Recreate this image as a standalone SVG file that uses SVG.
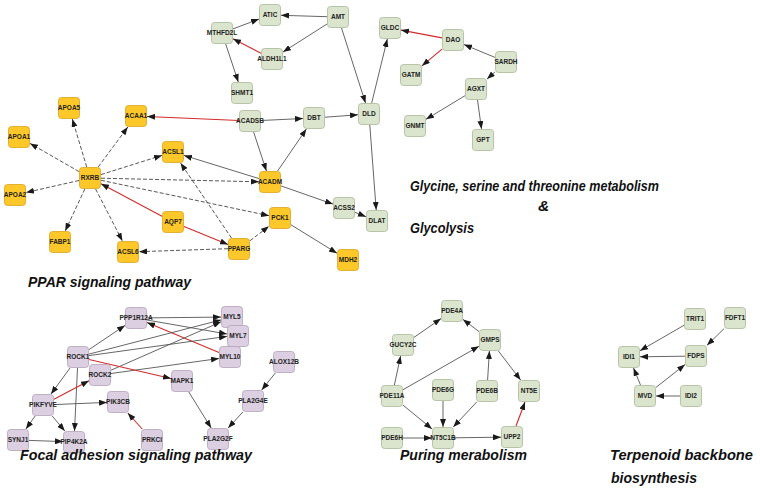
<svg xmlns="http://www.w3.org/2000/svg" width="760" height="491" viewBox="0 0 760 491">
<style>
.n rect{width:21px;height:21px;rx:3px;stroke-width:0.8}
.y rect{fill:#ffc82a;stroke:#d9a520}
.g rect{fill:#dbe5cd;stroke:#a9b898}
.p rect{fill:#dccfe1;stroke:#b3a2bb}
.n text{font-family:"Liberation Sans",Arial,sans-serif;font-size:6.5px;font-weight:bold;fill:#222;text-anchor:middle}
.e line{stroke:#555;stroke-width:0.9;marker-end:url(#ah)}
.e line.d{stroke-dasharray:4,2;stroke:#444}
.e line.r{stroke:#d22b2b;stroke-width:1.1}
.t{font-family:"Liberation Sans",Arial,sans-serif;font-size:15.5px;font-weight:bold;font-style:italic;fill:#111}
</style>
<defs>
<marker id="ah" markerUnits="userSpaceOnUse" markerWidth="8" markerHeight="6" refX="8" refY="3" orient="auto"><path d="M0,0 L8,3 L0,6 z" fill="#1a1a1a"/></marker>
</defs>
<rect width="760" height="491" fill="#fff"/>
<g id="connectors" class="e">
<line x1="327" y1="16.7" x2="281" y2="15.3"/>
<line x1="327" y1="24" x2="283" y2="52"/>
<line class="r" x1="261" y1="53.3" x2="233" y2="38.7"/>
<line x1="233" y1="28.9" x2="259" y2="19.1"/>
<line x1="225.7" y1="44" x2="238.3" y2="82"/>
<line x1="341.5" y1="28" x2="365.5" y2="103"/>
<line x1="371.7" y1="103" x2="387.3" y2="39"/>
<line class="r" x1="442" y1="37.9" x2="401" y2="30.1"/>
<line class="r" x1="442" y1="49.2" x2="422" y2="65.8"/>
<line x1="495" y1="57.4" x2="464" y2="44.6"/>
<line x1="495" y1="71.9" x2="487" y2="79.1"/>
<line x1="465" y1="95.7" x2="426" y2="119.3"/>
<line x1="477.5" y1="100" x2="481.5" y2="129"/>
<line x1="261" y1="120.5" x2="303" y2="118.5"/>
<line x1="325" y1="117.2" x2="358" y2="114.8"/>
<line x1="369.8" y1="125" x2="376.2" y2="210"/>
<line x1="253.6" y1="132" x2="266.4" y2="171"/>
<line x1="277.6" y1="171" x2="306.4" y2="129"/>
<line x1="259" y1="178.6" x2="184" y2="155.4"/>
<line x1="281" y1="185.9" x2="333" y2="204.1"/>
<line x1="355" y1="212.3" x2="366" y2="216.7"/>
<line x1="291" y1="224.8" x2="337" y2="253.2"/>
<line class="r" x1="239" y1="120.5" x2="147" y2="116.5"/>
<line class="d" x1="86.7" y1="167" x2="72.3" y2="119"/>
<line class="d" x1="79" y1="171.6" x2="30" y2="143.4"/>
<line class="d" x1="79" y1="180.5" x2="26" y2="192.5"/>
<line class="d" x1="84.8" y1="189" x2="65.2" y2="231"/>
<line class="d" x1="95.6" y1="189" x2="122.4" y2="241"/>
<line class="d" x1="98.2" y1="167" x2="127.8" y2="127"/>
<line class="d" x1="101" y1="174.6" x2="162" y2="155.4"/>
<line class="d" x1="101" y1="178.2" x2="259" y2="181.8"/>
<line class="d" x1="101" y1="180.3" x2="269" y2="215.7"/>
<line class="r" x1="162" y1="216.2" x2="101" y2="183.8"/>
<line class="r" x1="184" y1="226.5" x2="228" y2="244.5"/>
<line class="d" x1="231.5" y1="238" x2="180.5" y2="163"/>
<line class="d" x1="250" y1="240.7" x2="269" y2="226.3"/>
<line class="d" x1="228" y1="248.7" x2="139" y2="251.7"/>
<line x1="89" y1="349.6" x2="125" y2="325.4"/>
<line x1="147" y1="317.9" x2="221" y2="317.1"/>
<line x1="147" y1="320" x2="227" y2="334"/>
<line class="r" x1="219" y1="352.4" x2="147" y2="322.6"/>
<line x1="89" y1="354.1" x2="221" y2="319.9"/>
<line x1="89" y1="355.6" x2="227" y2="336.4"/>
<line x1="111" y1="370.2" x2="221" y2="321.8"/>
<line x1="111" y1="373.5" x2="219" y2="358.5"/>
<line class="r" x1="89" y1="359.5" x2="171" y2="378.5"/>
<line x1="70" y1="368" x2="51" y2="394"/>
<line x1="77.5" y1="368" x2="74.5" y2="431"/>
<line class="r" x1="54" y1="399.2" x2="89" y2="380.8"/>
<line x1="54" y1="404.6" x2="107" y2="402.4"/>
<line x1="35.1" y1="416" x2="25.9" y2="429"/>
<line x1="52.2" y1="416" x2="64.8" y2="431"/>
<line x1="29" y1="440.4" x2="63" y2="441.6"/>
<line class="r" x1="142.2" y1="429" x2="127.8" y2="413"/>
<line x1="188.8" y1="392" x2="211.2" y2="428"/>
<line x1="275.3" y1="373" x2="261.7" y2="390"/>
<line x1="242.9" y1="412" x2="228.1" y2="428"/>
<line x1="414" y1="337.4" x2="441" y2="318.6"/>
<line x1="479" y1="331.6" x2="463" y2="319.4"/>
<line x1="394.4" y1="385" x2="400.6" y2="356"/>
<line x1="403" y1="389.7" x2="479" y2="346.3"/>
<line x1="403" y1="405.1" x2="432" y2="428.9"/>
<line x1="443" y1="401" x2="443" y2="427"/>
<line x1="487.6" y1="380" x2="489.4" y2="351"/>
<line x1="476.7" y1="402" x2="453.3" y2="427"/>
<line x1="498.4" y1="351" x2="520.6" y2="380"/>
<line x1="403" y1="438" x2="432" y2="438"/>
<line x1="454" y1="437.8" x2="501" y2="437.2"/>
<line class="r" x1="516" y1="426" x2="525" y2="402"/>
<line x1="684" y1="325.3" x2="640" y2="350.7"/>
<line x1="724" y1="328.7" x2="707" y2="345.3"/>
<line x1="685" y1="356.2" x2="640" y2="356.8"/>
<line x1="640.5" y1="385" x2="633.5" y2="368"/>
<line x1="656" y1="387.4" x2="685" y2="364.6"/>
<line x1="680" y1="396" x2="656" y2="396"/>
</g>
<g id="ATIC" class="n g"><rect x="259.5" y="4.5"/><text x="270" y="17.3">ATIC</text></g>
<g id="AMT" class="n g"><rect x="327.5" y="6.5"/><text x="338" y="19.3">AMT</text></g>
<g id="MTHFD2L" class="n g"><rect x="211.5" y="22.5"/><text x="222" y="35.3">MTHFD2L</text></g>
<g id="ALDH1L1" class="n g"><rect x="261.5" y="48.5"/><text x="272" y="61.3">ALDH1L1</text></g>
<g id="GLDC" class="n g"><rect x="379.5" y="17.5"/><text x="390" y="30.3">GLDC</text></g>
<g id="DAO" class="n g"><rect x="442.5" y="29.5"/><text x="453" y="42.3">DAO</text></g>
<g id="SARDH" class="n g"><rect x="495.5" y="51.5"/><text x="506" y="64.3">SARDH</text></g>
<g id="GATM" class="n g"><rect x="400.5" y="64.5"/><text x="411" y="77.3">GATM</text></g>
<g id="AGXT" class="n g"><rect x="465.5" y="78.5"/><text x="476" y="91.3">AGXT</text></g>
<g id="GNMT" class="n g"><rect x="404.5" y="115.5"/><text x="415" y="128.3">GNMT</text></g>
<g id="GPT" class="n g"><rect x="472.5" y="129.5"/><text x="483" y="142.3">GPT</text></g>
<g id="SHMT1" class="n g"><rect x="231.5" y="82.5"/><text x="242" y="95.3">SHMT1</text></g>
<g id="ACADSB" class="n g"><rect x="239.5" y="110.5"/><text x="250" y="123.3">ACADSB</text></g>
<g id="DBT" class="n g"><rect x="303.5" y="107.5"/><text x="314" y="120.3">DBT</text></g>
<g id="DLD" class="n g"><rect x="358.5" y="103.5"/><text x="369" y="116.3">DLD</text></g>
<g id="ACSS2" class="n g"><rect x="333.5" y="197.5"/><text x="344" y="210.3">ACSS2</text></g>
<g id="DLAT" class="n g"><rect x="366.5" y="210.5"/><text x="377" y="223.3">DLAT</text></g>
<g id="ACADM" class="n y"><rect x="259.5" y="171.5"/><text x="270" y="184.3">ACADM</text></g>
<g id="PCK1" class="n y"><rect x="269.5" y="207.5"/><text x="280" y="220.3">PCK1</text></g>
<g id="MDH2" class="n y"><rect x="337.5" y="249.5"/><text x="348" y="262.3">MDH2</text></g>
<g id="PPARG" class="n y"><rect x="228.5" y="238.5"/><text x="239" y="251.3">PPARG</text></g>
<g id="APOA5" class="n y"><rect x="58.5" y="97.5"/><text x="69" y="110.3">APOA5</text></g>
<g id="ACAA1" class="n y"><rect x="125.5" y="105.5"/><text x="136" y="118.3">ACAA1</text></g>
<g id="APOA1" class="n y"><rect x="8.5" y="126.5"/><text x="19" y="139.3">APOA1</text></g>
<g id="ACSL1" class="n y"><rect x="162.5" y="141.5"/><text x="173" y="154.3">ACSL1</text></g>
<g id="RXRB" class="n y"><rect x="79.5" y="167.5"/><text x="90" y="180.3">RXRB</text></g>
<g id="APOA2" class="n y"><rect x="4.5" y="184.5"/><text x="15" y="197.3">APOA2</text></g>
<g id="AQP7" class="n y"><rect x="162.5" y="211.5"/><text x="173" y="224.3">AQP7</text></g>
<g id="FABP1" class="n y"><rect x="49.5" y="231.5"/><text x="60" y="244.3">FABP1</text></g>
<g id="ACSL6" class="n y"><rect x="117.5" y="241.5"/><text x="128" y="254.3">ACSL6</text></g>
<g id="PPP1R12A" class="n p"><rect x="125.5" y="307.5"/><text x="136" y="320.3">PPP1R12A</text></g>
<g id="ROCK1" class="n p"><rect x="67.5" y="346.5"/><text x="78" y="359.3">ROCK1</text></g>
<g id="ROCK2" class="n p"><rect x="89.5" y="364.5"/><text x="100" y="377.3">ROCK2</text></g>
<g id="PIKFYVE" class="n p"><rect x="32.5" y="394.5"/><text x="43" y="407.3">PIKFYVE</text></g>
<g id="PIK3CB" class="n p"><rect x="107.5" y="391.5"/><text x="118" y="404.3">PIK3CB</text></g>
<g id="SYNJ1" class="n p"><rect x="7.5" y="429.5"/><text x="18" y="442.3">SYNJ1</text></g>
<g id="PIP4K2A" class="n p"><rect x="63.5" y="431.5"/><text x="74" y="444.3">PIP4K2A</text></g>
<g id="PRKCI" class="n p"><rect x="141.5" y="429.5"/><text x="152" y="442.3">PRKCI</text></g>
<g id="MYL5" class="n p"><rect x="221.5" y="306.5"/><text x="232" y="319.3">MYL5</text></g>
<g id="MYL7" class="n p"><rect x="227.5" y="325.5"/><text x="238" y="338.3">MYL7</text></g>
<g id="MYL10" class="n p"><rect x="219.5" y="346.5"/><text x="230" y="359.3">MYL10</text></g>
<g id="ALOX12B" class="n p"><rect x="273.5" y="351.5"/><text x="284" y="364.3">ALOX12B</text></g>
<g id="MAPK1" class="n p"><rect x="171.5" y="370.5"/><text x="182" y="383.3">MAPK1</text></g>
<g id="PLA2G4E" class="n p"><rect x="242.5" y="390.5"/><text x="253" y="403.3">PLA2G4E</text></g>
<g id="PLA2G2F" class="n p"><rect x="207.5" y="428.5"/><text x="218" y="441.3">PLA2G2F</text></g>
<g id="PDE4A" class="n g"><rect x="441.5" y="300.5"/><text x="452" y="313.3">PDE4A</text></g>
<g id="GUCY2C" class="n g"><rect x="392.5" y="334.5"/><text x="403" y="347.3">GUCY2C</text></g>
<g id="GMPS" class="n g"><rect x="479.5" y="329.5"/><text x="490" y="342.3">GMPS</text></g>
<g id="PDE11A" class="n g"><rect x="381.5" y="385.5"/><text x="392" y="398.3">PDE11A</text></g>
<g id="PDE6G" class="n g"><rect x="432.5" y="379.5"/><text x="443" y="392.3">PDE6G</text></g>
<g id="PDE6B" class="n g"><rect x="476.5" y="380.5"/><text x="487" y="393.3">PDE6B</text></g>
<g id="NT5E" class="n g"><rect x="518.5" y="380.5"/><text x="529" y="393.3">NT5E</text></g>
<g id="PDE6H" class="n g"><rect x="381.5" y="427.5"/><text x="392" y="440.3">PDE6H</text></g>
<g id="NT5C1B" class="n g"><rect x="432.5" y="427.5"/><text x="443" y="440.3">NT5C1B</text></g>
<g id="UPP2" class="n g"><rect x="501.5" y="426.5"/><text x="512" y="439.3">UPP2</text></g>
<g id="TRIT1" class="n g"><rect x="684.5" y="308.5"/><text x="695" y="321.3">TRIT1</text></g>
<g id="FDFT1" class="n g"><rect x="724.5" y="307.5"/><text x="735" y="320.3">FDFT1</text></g>
<g id="IDI1" class="n g"><rect x="618.5" y="346.5"/><text x="629" y="359.3">IDI1</text></g>
<g id="FDPS" class="n g"><rect x="685.5" y="345.5"/><text x="696" y="358.3">FDPS</text></g>
<g id="MVD" class="n g"><rect x="634.5" y="385.5"/><text x="645" y="398.3">MVD</text></g>
<g id="IDI2" class="n g"><rect x="680.5" y="385.5"/><text x="691" y="398.3">IDI2</text></g>
<text class="t" x="410" y="191" textLength="249" lengthAdjust="spacingAndGlyphs">Glycine, serine and threonine metabolism</text>
<text class="t" x="538" y="211">&amp;</text>
<text class="t" x="410" y="233" textLength="64" lengthAdjust="spacingAndGlyphs">Glycolysis</text>
<text class="t" x="28" y="287" textLength="163" lengthAdjust="spacingAndGlyphs">PPAR signaling pathway</text>
<text class="t" x="20" y="460" textLength="232" lengthAdjust="spacingAndGlyphs">Focal adhesion signaling pathway</text>
<text class="t" x="400" y="460" textLength="127" lengthAdjust="spacingAndGlyphs">Puring merabolism</text>
<text class="t" x="610" y="460" style="font-size:14px" textLength="143" lengthAdjust="spacingAndGlyphs">Terpenoid backbone</text>
<text class="t" x="611" y="483" textLength="86" lengthAdjust="spacingAndGlyphs">biosynthesis</text>
</svg>
